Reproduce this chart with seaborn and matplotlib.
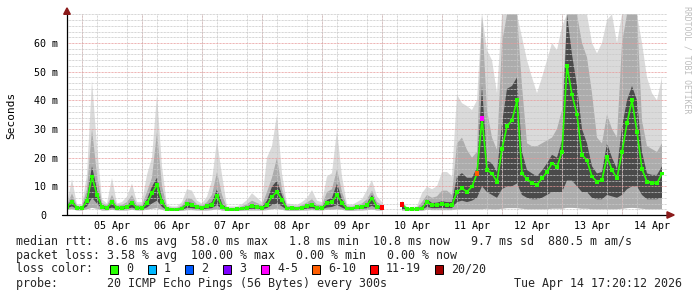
import numpy as np
import pandas as pd
import matplotlib
matplotlib.use("Agg")
import matplotlib.pyplot as plt
import seaborn as sns
from matplotlib.patches import Rectangle, Polygon
from matplotlib.ticker import MultipleLocator, FixedLocator
from matplotlib.transforms import ScaledTranslation

nan = float("nan")

# time axis: hours since 04 Apr 00:00 (2-hour consolidated steps)
hours = list(range(18, 258, 2))

median_ms = [
    2.9, 4.6, 2.5, 2.4, 5.0, 13.4, 7.0, 2.8, 2.5, 4.5,
    2.5, 2.5, 2.8, 4.2, 2.5, 2.4, 4.1, 7.6, 10.5, 4.6,
    2.0, 1.9, 1.9, 2.3, 3.8, 3.5, 2.7, 2.5, 3.1, 3.5,
    6.8, 2.9, 2.0, 1.9, 2.0, 2.3, 2.5, 3.1, 2.7, 2.5,
    3.5, 6.4, 8.1, 5.2, 2.3, 2.4, 2.3, 2.5, 3.1, 3.5,
    2.5, 2.5, 4.1, 4.6, 7.0, 4.1, 2.3, 2.3, 2.7, 2.9,
    3.5, 5.8, 2.9, 2.7, nan, nan, nan, 3.8, 2.0, 2.0,
    2.0, 2.3, 4.6, 3.5, 3.5, 3.8, 3.5, 3.5, 8.1, 9.3,
    8.1, 9.9, 14.5, 33.7, 15.7, 14.5, 11.6, 23.0, 31.0, 33.0,
    40.0, 14.5, 12.5, 11.1, 10.5, 12.8, 15.1, 18.0, 16.8, 22.0,
    52.0, 42.0, 35.0, 21.0, 19.0, 13.4, 11.6, 12.2, 20.3, 15.7,
    12.8, 22.0, 32.0, 40.0, 29.0, 16.0, 11.6, 11.1, 11.1, 14.5,
]

# outer smoke envelope (lightest)
smoke_max = [
    4.0, 12.5, 3.8, 3.6, 14, 47, 24, 5.5, 4.0, 13,
    4.0, 4.5, 6.4, 11, 4.5, 4.5, 14, 20, 42, 17,
    3.5, 3.0, 3.0, 4.5, 9.0, 8.5, 5.0, 4.0, 6.4, 12,
    26, 14, 3.0, 3.0, 3.0, 3.8, 5.2, 7.6, 6.0, 4.5,
    20, 24, 35, 14.5, 4.0, 3.8, 3.5, 4.5, 5.9, 8.7,
    5.0, 4.5, 13.4, 14.6, 29.6, 13.4, 3.8, 3.5, 4.5, 5.5,
    8.7, 12.2, 6.5, 4.5, nan, nan, nan, 5.0, 2.8, 2.8,
    3.0, 7.6, 9.9, 9.0, 10, 15, 15, 13.4, 42, 39,
    38, 36.6, 40, 70, 57.5, 54, 42.5, 70, 70, 70,
    70, 62, 54, 48, 42.5, 48, 54, 60, 57.5, 65.7,
    70, 70, 70, 70, 70, 60, 56.4, 60, 68, 70,
    60, 70, 70, 70, 70, 60, 48, 42.5, 40, 48,
]
smoke_min = [
    1.8, 2.0, 1.6, 1.6, 2.0, 2.5, 2.2, 1.6, 1.6, 1.8,
    1.6, 1.6, 1.6, 1.8, 1.6, 1.6, 1.8, 2.2, 2.4, 1.8,
    1.4, 1.4, 1.4, 1.5, 1.7, 1.7, 1.6, 1.6, 1.6, 1.7,
    2.0, 1.6, 1.4, 1.4, 1.4, 1.5, 1.6, 1.6, 1.6, 1.6,
    1.7, 2.0, 2.2, 1.8, 1.5, 1.5, 1.5, 1.6, 1.6, 1.7,
    1.6, 1.6, 1.8, 1.8, 2.0, 1.8, 1.5, 1.5, 1.6, 1.6,
    1.7, 1.9, 1.6, 1.6, nan, nan, nan, 1.6, 1.5, 1.5,
    1.5, 1.5, 1.8, 1.7, 1.7, 1.7, 1.7, 1.7, 2.0, 2.0,
    2.0, 2.0, 2.0, 2.0, 2.2, 2.0, 2.0, 2.2, 2.4, 2.4,
    2.4, 2.2, 2.0, 2.0, 2.0, 2.0, 2.0, 2.2, 2.2, 2.2,
    2.5, 2.5, 2.4, 2.2, 2.2, 2.0, 2.0, 2.0, 2.0, 2.0,
    2.0, 2.2, 2.4, 2.5, 2.4, 2.2, 2.0, 2.0, 2.0, 2.0,
]
# middle smoke band top
smoke_mid = [
    3.4, 7.5, 3.2, 3.0, 9, 30, 14, 4.2, 3.3, 7,
    3.3, 3.5, 4.5, 7, 3.5, 3.4, 8, 13, 29, 10,
    2.8, 2.5, 2.5, 3.3, 6.0, 5.5, 3.8, 3.3, 4.5, 7,
    15, 7, 2.5, 2.5, 2.5, 3.0, 3.8, 5.0, 4.2, 3.4,
    8, 13, 20, 9, 3.2, 3.1, 2.9, 3.4, 4.4, 5.5,
    3.6, 3.4, 8, 9, 16, 8, 3.0, 2.9, 3.5, 4.0,
    5.5, 8.5, 4.5, 3.5, nan, nan, nan, 4.2, 2.4, 2.4,
    2.5, 4.5, 7, 6, 6.5, 8.5, 8.5, 7, 25, 27,
    22.7, 20, 22, 70, 36.6, 27, 22.7, 60, 70, 70,
    70, 45, 25, 24, 24, 25, 26, 27, 30, 36.6,
    70, 70, 70, 60, 55, 42.5, 27, 25, 35, 30,
    27, 60, 70, 70, 70, 33, 24, 23, 22, 25,
]
# dense core of the smoke
core_top = [
    3.1, 5.5, 2.8, 2.7, 6.5, 17, 9, 3.3, 2.8, 5,
    2.8, 2.9, 3.3, 5, 2.9, 2.8, 5.5, 9.9, 13, 6,
    2.3, 2.2, 2.2, 2.7, 4.5, 4.2, 3.1, 2.8, 3.6, 4.5,
    9, 4, 2.2, 2.2, 2.2, 2.6, 2.9, 3.7, 3.2, 2.8,
    5, 9.9, 12, 7, 2.6, 2.7, 2.6, 2.8, 3.6, 4.2,
    2.9, 2.8, 5.2, 6, 11, 5.5, 2.6, 2.6, 3.0, 3.3,
    4.2, 7.0, 3.4, 3.0, nan, nan, nan, 4.0, 2.2, 2.2,
    2.2, 3.0, 5.5, 4.2, 4.3, 4.8, 4.5, 4.5, 13.4, 14.6,
    13, 13, 16.5, 45, 19, 18, 15, 32, 44, 45,
    48, 22, 15.7, 14.5, 13.5, 15.5, 18, 21, 20, 26,
    70, 56, 45, 30, 25, 17, 14.5, 15, 25, 20,
    16, 30.8, 40, 45, 40, 22, 14.5, 14, 14, 17,
]
core_bottom = [
    2.3, 3.0, 2.1, 2.0, 3.0, 6.0, 4.0, 2.2, 2.0, 2.6,
    2.0, 2.0, 2.1, 2.6, 2.0, 2.0, 2.6, 4.0, 5.0, 2.8,
    1.7, 1.6, 1.6, 1.8, 2.5, 2.4, 2.1, 2.0, 2.2, 2.4,
    3.5, 2.1, 1.6, 1.6, 1.6, 1.8, 2.0, 2.2, 2.1, 2.0,
    2.4, 3.5, 4.0, 3.0, 1.8, 1.9, 1.8, 2.0, 2.2, 2.4,
    2.0, 2.0, 2.6, 2.8, 3.5, 2.6, 1.8, 1.8, 2.1, 2.2,
    2.4, 3.2, 2.2, 2.1, nan, nan, nan, 2.0, 1.7, 1.7,
    1.7, 1.9, 2.8, 2.4, 2.4, 2.5, 2.4, 2.4, 4.5, 5.0,
    4.5, 5.0, 6.0, 10, 8, 7, 6, 9, 10, 10,
    11, 7, 6, 5.5, 5.5, 6, 7, 8, 8, 8,
    12, 12, 10, 8, 8, 6, 5.5, 5.5, 7, 6.5,
    6, 7, 9, 10, 10, 7, 5.5, 5.5, 5.5, 6,
]
# lost pings (of 20) per step
lost_pings = [0] * 120
lost_pings[63] = 15
lost_pings[67] = 15
lost_pings[82] = 8
lost_pings[83] = 5

day_labels = ["05 Apr", "06 Apr", "07 Apr", "08 Apr", "09 Apr",
              "10 Apr", "11 Apr", "12 Apr", "13 Apr", "14 Apr"]
y_labels = ["0", "10 m", "20 m", "30 m", "40 m", "50 m", "60 m"]
loss_labels = ["0", "1", "2", "3", "4-5", "6-10", "11-19", "20/20"]
loss_colors = ["#26ff00", "#00b8ff", "#0059ff", "#7e00ff",
               "#ff00ff", "#ff5e00", "#ff0000", "#a10000"]

stats_line1 = "median rtt:  8.6 ms avg  58.0 ms max   1.8 ms min  10.8 ms now   9.7 ms sd  880.5 m am/s"
stats_line2 = "packet loss: 3.58 % avg  100.00 % max   0.00 % min   0.00 % now"
probe_text = "probe:       20 ICMP Echo Pings (56 Bytes) every 300s"
stamp_text = "Tue Apr 14 17:20:12 2026"

# ---------------------------------------------------------------
sns.set_theme(style="white")
plt.rcParams["font.family"] = ["DejaVu Sans Mono", "DejaVu Sans"]

W, H = 697, 297
fig = plt.figure(figsize=(W / 100, H / 100), dpi=100)
fig.patch.set_facecolor("white")


def fx(px):
    return px / W


def fy(py):
    return 1 - py / H


ax = fig.add_axes([fx(67), fy(215), 600 / W, (215 - 14.3) / H])
ax.set_facecolor("white")


def bucket(n):
    if n <= 3:
        return loss_labels[n]
    if n <= 5:
        return "4-5"
    if n <= 10:
        return "6-10"
    if n <= 19:
        return "11-19"
    return "20/20"


df = pd.DataFrame({
    "hour": hours, "med": median_ms, "hi": smoke_max, "lo": smoke_min,
    "mid": smoke_mid, "ctop": core_top, "cbot": core_bottom,
    "lost": lost_pings,
})
df["bucket"] = [bucket(n) for n in df["lost"]]
df["seg"] = df["med"].isna().cumsum()

ax.fill_between(df["hour"], df["lo"], df["hi"],
                color="#dadada", lw=0, zorder=1)
ax.fill_between(df["hour"], df["lo"], df["mid"],
                color="#acacac", lw=0, zorder=1.05)
ax.fill_between(df["hour"], df["cbot"], df["ctop"],
                color="#4a4a4a", lw=0, zorder=1.1)

valid = df.dropna(subset=["med"])
sns.lineplot(data=valid, x="hour", y="med", units="seg", estimator=None,
             color="#26ff00", lw=1.2, ax=ax, legend=False, zorder=3)
pal = dict(zip(loss_labels, loss_colors))
sns.scatterplot(data=valid, x="hour", y="med", hue="bucket", palette=pal,
                marker="s", s=7, linewidth=0, ax=ax, legend=False, zorder=4)
lossy = valid[valid["lost"] > 0]
sns.scatterplot(data=lossy, x="hour", y="med", hue="bucket", palette=pal,
                marker="s", s=12, linewidth=0, ax=ax, legend=False, zorder=5)

ax.set_xlim(18, 258)
ax.set_ylim(0, 70)

# grid
ax.set_axisbelow("line")
ax.xaxis.set_major_locator(FixedLocator([36 + 24 * i for i in range(len(day_labels))]))
ax.set_xticklabels(day_labels)
ax.xaxis.set_minor_locator(MultipleLocator(6))
ax.yaxis.set_minor_locator(MultipleLocator(2))
ax.set_yticks(range(0, 70, 10))
ax.set_yticklabels(y_labels)
dot = (0, (0.72, 0.72))
ax.grid(which="minor", axis="both", color="#c8c8c8", lw=0.72, ls=dot)
ax.grid(which="major", axis="y", color="#e89a9a", lw=0.72, ls=dot)
ax.grid(which="major", axis="x", visible=False)
for d in range(24, 258, 24):
    ax.axvline(d, color="#e89a9a", lw=0.72, ls=dot, zorder=1.5)

ax.tick_params(axis="both", which="both", direction="out", color="black",
               width=0.72, labelsize=7.2, labelcolor="black")
ax.tick_params(axis="x", which="major", length=0, pad=4)
ax.tick_params(axis="x", which="minor", length=2)
ax.tick_params(axis="y", which="major", length=2, pad=4.5)
ax.tick_params(axis="y", which="minor", length=1.5)
ax.set_xlabel("")
ax.set_ylabel("")
for lab in ax.get_yticklabels():
    if lab.get_text() == "0":
        lab.set_transform(lab.get_transform() + ScaledTranslation(-12 / 100, 0, fig.dpi_scale_trans))

for s in ax.spines.values():
    s.set_visible(False)
ax.plot([0, 0], [0, 1.0], transform=ax.transAxes, color="black", lw=0.9,
        clip_on=False, zorder=6)
ax.plot([-0.008, 1.0], [0, 0], transform=ax.transAxes, color="black", lw=0.9,
        clip_on=False, zorder=6)
arrow_c = "#8b1a1a"
ax.add_patch(Polygon([(-0.0055, 1.0), (0.0055, 1.0), (0, 1.032)], closed=True,
                     transform=ax.transAxes, color=arrow_c, clip_on=False, zorder=7))
ax.add_patch(Polygon([(1.0, -0.016), (1.0, 0.016), (1.012, 0)], closed=True,
                     transform=ax.transAxes, color=arrow_c, clip_on=False, zorder=7))

# texts
fig.text(fx(11), fy(115), "Seconds", rotation=90, ha="center", va="center",
         fontsize=8, color="black")
fig.text(fx(687), fy(60), "RRDTOOL / TOBI OETIKER", rotation=270, ha="center",
         va="center", fontsize=5.9, color="#bdbdbd")

fs = 8.37
fig.text(fx(16), fy(241), stats_line1, ha="left", va="center", fontsize=fs)
fig.text(fx(16), fy(255), stats_line2, ha="left", va="center", fontsize=fs)
fig.text(fx(16), fy(269), "loss color:", ha="left", va="center", fontsize=fs)
box_x = [110, 148, 185, 223, 261, 312, 370, 435]
for bx, lab, col in zip(box_x, loss_labels, loss_colors):
    fig.patches.append(Rectangle((fx(bx), fy(274)), 8 / W, 9 / H,
                                 transform=fig.transFigure, facecolor=col,
                                 edgecolor="black", lw=0.7))
    fig.text(fx(bx + 16), fy(269), lab, ha="left", va="center", fontsize=fs)
fig.text(fx(16), fy(283), probe_text, ha="left", va="center", fontsize=fs)
fig.text(fx(682), fy(283), stamp_text, ha="right", va="center", fontsize=fs)

fig.savefig("out.png", dpi=100, facecolor="white")
